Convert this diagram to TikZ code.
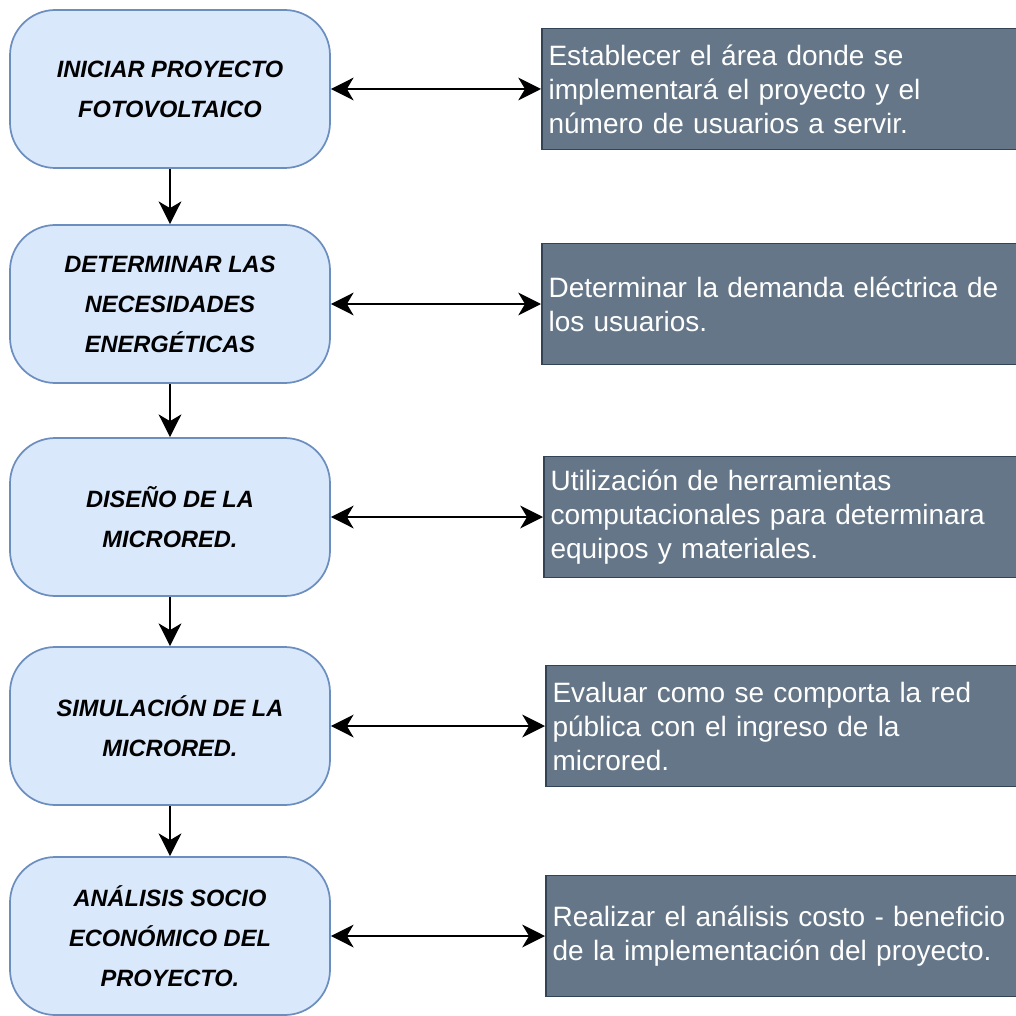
\documentclass[tikz,border=0pt]{standalone}
\usepackage{fontspec}
\setmainfont{Liberation Sans}
\usetikzlibrary{arrows.meta}
\definecolor{stagefill}{HTML}{DAE8FC}
\definecolor{stageline}{HTML}{6C8EBF}
\definecolor{notefill}{HTML}{647687}
\definecolor{noteline}{HTML}{314354}

\begin{document}
\begin{tikzpicture}[x=0.75pt, y=-0.75pt,
        stage/.style={draw=stageline, fill=stagefill, line width=1.3pt, rounded corners=34pt,
            minimum width=240pt, minimum height=118.5pt, inner sep=0pt, align=center,
            font=\fontsize{17.7}{30}\selectfont\bfseries\itshape},
        note/.style={draw=noteline, fill=notefill, line width=1.3pt, text=white, anchor=west,
            text width=350pt, inner xsep=5pt, minimum height=90.75pt, align=left,
            font=\fontsize{21}{25.5}\selectfont},
        link/.style={line width=1.9pt, {Stealth[length=17pt,width=17pt,inset=5pt]}-{Stealth[length=17pt,width=17pt,inset=5pt]}},
        flow/.style={line width=1.9pt, -{Stealth[length=17pt,width=17pt,inset=5pt]}}]
    \useasboundingbox (0, 0) rectangle (1016, 1016);

    \node[stage] (1) at (170, 89)  {INICIAR PROYECTO\\FOTOVOLTAICO};
    \node[stage] (2) at (170, 304) {DETERMINAR LAS\\NECESIDADES\\ENERGÉTICAS};
    \node[stage] (3) at (170, 517) {DISEÑO DE LA\\MICRORED.};
    \node[stage] (4) at (170, 726) {SIMULACIÓN DE LA\\MICRORED.};
    \node[stage] (5) at (170, 936) {ANÁLISIS SOCIO\\ECONÓMICO DEL\\PROYECTO.};

    \node[note] (n1) at (541, 89)  {Establecer el área donde se\\implementará el proyecto y el\\número de usuarios a servir.};
    \node[note] (n2) at (541, 304) {Determinar la demanda eléctrica de\\los usuarios.};
    \node[note] (n3) at (543, 517) {Utilización de herramientas\\computacionales para determinara\\equipos y materiales.};
    \node[note] (n4) at (545, 726) {Evaluar como se comporta la red\\pública con el ingreso de la\\microred.};
    \node[note] (n5) at (545, 936) {Realizar el análisis costo - beneficio\\de la implementación del proyecto.};

    \draw[flow] (1) -- (2);
    \draw[flow] (2) -- (3);
    \draw[flow] (3) -- (4);
    \draw[flow] (4) -- (5);

    \draw[link] (1) -- (n1);
    \draw[link] (2) -- (n2);
    \draw[link] (3) -- (n3);
    \draw[link] (4) -- (n4);
    \draw[link] (5) -- (n5);
\end{tikzpicture}
\end{document}
